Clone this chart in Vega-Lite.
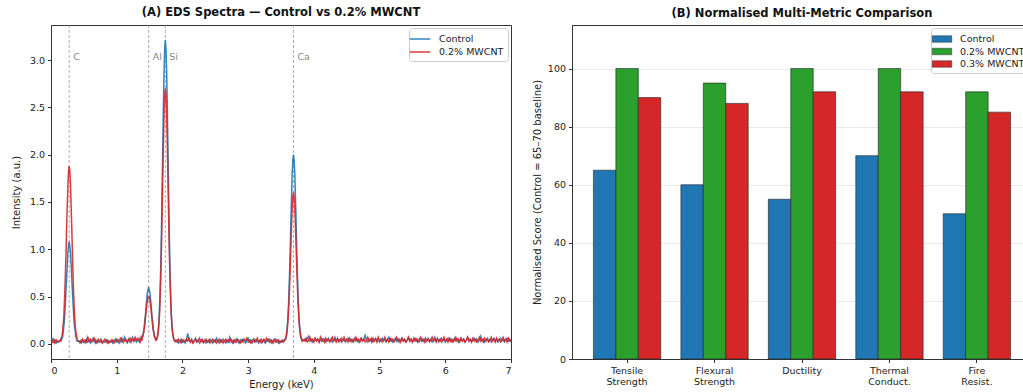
{
  "$schema": "https://vega.github.io/schema/vega-lite/v6.json",
  "padding": {"left": 10, "top": 6, "right": 0, "bottom": 0},
  "background": "white",
  "spacing": 61,
  "bounds": "flush",
  "config": {
    "font": "DejaVu Sans",
    "view": {"stroke": "#333", "strokeWidth": 1},
    "axis": {"domainColor": "#333", "tickColor": "#333", "tickSize": 3.5, "labelColor": "#222", "labelFontSize": 9.5, "titleFontSize": 10, "titleFontWeight": "normal", "titleColor": "#222", "labelPadding": 3, "grid": false},
    "title": {"fontSize": 11.5, "fontWeight": "bold", "color": "#111", "offset": 6},
    "legend": {"labelFontSize": 9.5, "labelColor": "#222", "fillColor": "white", "strokeColor": "#ccc", "cornerRadius": 3, "padding": 4, "offset": 3, "title": null}
  },
  "resolve": {"scale": {"color": "independent"}, "legend": {"color": "independent"}},
  "datasets": {
    "els": [
      {"el": "C", "e": 0.277},
      {"el": "Al", "e": 1.486},
      {"el": "Si", "e": 1.74},
      {"el": "Ca", "e": 3.69}
    ],
    "spec": [
      {"e":0.00,"c":0.03,"m":0.04},{"e":0.02,"c":0.05,"m":0.02},{"e":0.04,"c":0.02,"m":0.05},{"e":0.06,"c":0.04,"m":0.01},{"e":0.08,"c":0.01,"m":0.04},{"e":0.10,"c":0.03,"m":0.02},{"e":0.12,"c":0.02,"m":0.03},
      {"e":0.137,"c":0.03,"m":0.03},{"e":0.147,"c":0.05,"m":0.03},{"e":0.157,"c":0.04,"m":0.06},{"e":0.167,"c":0.06,"m":0.08},{"e":0.177,"c":0.07,"m":0.14},{"e":0.187,"c":0.13,"m":0.21},{"e":0.197,"c":0.20,"m":0.31},{"e":0.207,"c":0.28,"m":0.49},{"e":0.217,"c":0.39,"m":0.69},{"e":0.227,"c":0.55,"m":0.92},{"e":0.237,"c":0.69,"m":1.21},{"e":0.247,"c":0.82,"m":1.45},{"e":0.257,"c":0.97,"m":1.66},{"e":0.267,"c":1.04,"m":1.83},{"e":0.277,"c":1.08,"m":1.88},{"e":0.287,"c":1.03,"m":1.82},{"e":0.297,"c":0.96,"m":1.68},{"e":0.307,"c":0.84,"m":1.44},{"e":0.317,"c":0.68,"m":1.20},{"e":0.327,"c":0.54,"m":0.94},{"e":0.337,"c":0.41,"m":0.68},{"e":0.347,"c":0.27,"m":0.48},{"e":0.357,"c":0.19,"m":0.33},{"e":0.367,"c":0.15,"m":0.20},{"e":0.377,"c":0.08,"m":0.13},{"e":0.387,"c":0.06,"m":0.09},{"e":0.397,"c":0.03,"m":0.05},{"e":0.407,"c":0.03,"m":0.03},{"e":0.417,"c":0.03,"m":0.03},
      {"e":0.44,"c":0.01,"m":0.03},{"e":0.46,"c":0.04,"m":0.01},{"e":0.48,"c":0.02,"m":0.05},{"e":0.50,"c":0.03,"m":0.02},{"e":0.52,"c":0.01,"m":0.04},{"e":0.54,"c":0.05,"m":0.02},{"e":0.56,"c":0.02,"m":0.07},{"e":0.58,"c":0.04,"m":0.03},{"e":0.60,"c":0.01,"m":0.05},{"e":0.62,"c":0.03,"m":0.02},{"e":0.64,"c":0.06,"m":0.04},{"e":0.66,"c":0.02,"m":0.06},{"e":0.68,"c":0.04,"m":0.01},{"e":0.70,"c":0.01,"m":0.03},{"e":0.72,"c":0.03,"m":0.05},{"e":0.74,"c":0.02,"m":0.02},{"e":0.76,"c":0.05,"m":0.04},{"e":0.78,"c":0.01,"m":0.01},{"e":0.80,"c":0.03,"m":0.03},{"e":0.82,"c":0.02,"m":0.05},{"e":0.84,"c":0.04,"m":0.02},{"e":0.86,"c":0.01,"m":0.04},{"e":0.88,"c":0.03,"m":0.01},{"e":0.90,"c":0.02,"m":0.03},{"e":0.92,"c":0.04,"m":0.02},{"e":0.94,"c":0.01,"m":0.04},{"e":0.96,"c":0.03,"m":0.01},{"e":0.98,"c":0.05,"m":0.03},{"e":1.00,"c":0.02,"m":0.05},{"e":1.02,"c":0.04,"m":0.02},{"e":1.04,"c":0.01,"m":0.04},{"e":1.06,"c":0.03,"m":0.06},{"e":1.08,"c":0.06,"m":0.02},{"e":1.10,"c":0.02,"m":0.04},{"e":1.12,"c":0.07,"m":0.03},{"e":1.14,"c":0.03,"m":0.05},{"e":1.16,"c":0.01,"m":0.02},{"e":1.18,"c":0.05,"m":0.04},{"e":1.20,"c":0.02,"m":0.06},{"e":1.22,"c":0.04,"m":0.02},{"e":1.24,"c":0.07,"m":0.05},{"e":1.26,"c":0.03,"m":0.03},{"e":1.28,"c":0.05,"m":0.07},{"e":1.30,"c":0.02,"m":0.04},{"e":1.32,"c":0.04,"m":0.06},
      {"e":1.346,"c":0.02,"m":0.04},{"e":1.356,"c":0.06,"m":0.02},{"e":1.366,"c":0.04,"m":0.04},{"e":1.376,"c":0.04,"m":0.07},{"e":1.386,"c":0.07,"m":0.05},{"e":1.396,"c":0.08,"m":0.08},{"e":1.406,"c":0.12,"m":0.10},{"e":1.416,"c":0.16,"m":0.15},{"e":1.426,"c":0.24,"m":0.19},{"e":1.436,"c":0.30,"m":0.27},{"e":1.446,"c":0.39,"m":0.33},{"e":1.456,"c":0.46,"m":0.40},{"e":1.466,"c":0.54,"m":0.45},{"e":1.476,"c":0.57,"m":0.50},{"e":1.486,"c":0.60,"m":0.50},{"e":1.496,"c":0.57,"m":0.49},{"e":1.506,"c":0.54,"m":0.46},{"e":1.516,"c":0.46,"m":0.39},{"e":1.526,"c":0.39,"m":0.34},{"e":1.536,"c":0.30,"m":0.26},{"e":1.546,"c":0.24,"m":0.20},{"e":1.556,"c":0.16,"m":0.14},{"e":1.566,"c":0.12,"m":0.11},{"e":1.576,"c":0.08,"m":0.07},{"e":1.586,"c":0.06,"m":0.06},{"e":1.596,"c":0.04,"m":0.04},{"e":1.606,"c":0.05,"m":0.04},
      {"e":1.62,"c":0.07,"m":0.08},{"e":1.63,"c":0.13,"m":0.11},{"e":1.64,"c":0.21,"m":0.19},{"e":1.65,"c":0.35,"m":0.29},{"e":1.66,"c":0.54,"m":0.47},{"e":1.67,"c":0.82,"m":0.69},{"e":1.68,"c":1.17,"m":0.99},{"e":1.69,"c":1.60,"m":1.33},{"e":1.70,"c":2.04,"m":1.73},{"e":1.71,"c":2.50,"m":2.09},{"e":1.72,"c":2.86,"m":2.41},{"e":1.73,"c":3.12,"m":2.62},{"e":1.74,"c":3.21,"m":2.70},{"e":1.75,"c":3.11,"m":2.63},{"e":1.76,"c":2.87,"m":2.40},{"e":1.77,"c":2.49,"m":2.10},{"e":1.78,"c":2.05,"m":1.72},{"e":1.79,"c":1.59,"m":1.34},{"e":1.80,"c":1.18,"m":0.98},{"e":1.81,"c":0.81,"m":0.70},{"e":1.82,"c":0.55,"m":0.46},{"e":1.83,"c":0.34,"m":0.30},{"e":1.84,"c":0.22,"m":0.18},{"e":1.85,"c":0.12,"m":0.12},{"e":1.86,"c":0.08,"m":0.07},{"e":1.87,"c":0.05,"m":0.05},{"e":1.88,"c":0.04,"m":0.03},
      {"e":1.90,"c":0.02,"m":0.04},{"e":1.92,"c":0.04,"m":0.02},{"e":1.94,"c":0.01,"m":0.05},{"e":1.96,"c":0.03,"m":0.03},{"e":1.98,"c":0.05,"m":0.01},{"e":2.00,"c":0.02,"m":0.04},{"e":2.02,"c":0.04,"m":0.02},{"e":2.04,"c":0.01,"m":0.03},{"e":2.06,"c":0.03,"m":0.05},{"e":2.08,"c":0.11,"m":0.03},{"e":2.10,"c":0.04,"m":0.06},{"e":2.12,"c":0.02,"m":0.02},{"e":2.14,"c":0.05,"m":0.04},{"e":2.16,"c":0.01,"m":0.01},{"e":2.18,"c":0.03,"m":0.03},{"e":2.20,"c":0.06,"m":0.05},{"e":2.22,"c":0.02,"m":0.02},{"e":2.24,"c":0.04,"m":0.04},{"e":2.26,"c":0.01,"m":0.06},{"e":2.28,"c":0.03,"m":0.02},{"e":2.30,"c":0.05,"m":0.04},{"e":2.32,"c":0.02,"m":0.01},{"e":2.34,"c":0.04,"m":0.03},{"e":2.36,"c":0.01,"m":0.05},{"e":2.38,"c":0.03,"m":0.02},{"e":2.40,"c":0.02,"m":0.04},{"e":2.42,"c":0.05,"m":0.01},{"e":2.44,"c":0.03,"m":0.03},{"e":2.46,"c":0.01,"m":0.05},{"e":2.48,"c":0.04,"m":0.02},{"e":2.50,"c":0.02,"m":0.04},{"e":2.52,"c":0.06,"m":0.01},{"e":2.54,"c":0.03,"m":0.03},{"e":2.56,"c":0.01,"m":0.05},{"e":2.58,"c":0.04,"m":0.02},{"e":2.60,"c":0.02,"m":0.04},{"e":2.62,"c":0.05,"m":0.01},{"e":2.64,"c":0.03,"m":0.03},{"e":2.66,"c":0.01,"m":0.05},{"e":2.68,"c":0.04,"m":0.02},{"e":2.70,"c":0.02,"m":0.04},{"e":2.72,"c":0.07,"m":0.02},{"e":2.74,"c":0.03,"m":0.05},{"e":2.76,"c":0.01,"m":0.03},{"e":2.78,"c":0.04,"m":0.01},{"e":2.80,"c":0.02,"m":0.04},{"e":2.82,"c":0.05,"m":0.02},{"e":2.84,"c":0.03,"m":0.05},{"e":2.86,"c":0.01,"m":0.03},{"e":2.88,"c":0.04,"m":0.01},{"e":2.90,"c":0.02,"m":0.04},{"e":2.92,"c":0.05,"m":0.02},{"e":2.94,"c":0.03,"m":0.05},{"e":2.96,"c":0.01,"m":0.03},{"e":2.98,"c":0.04,"m":0.06},{"e":3.00,"c":0.06,"m":0.02},{"e":3.02,"c":0.02,"m":0.04},{"e":3.04,"c":0.04,"m":0.01},{"e":3.06,"c":0.01,"m":0.03},{"e":3.08,"c":0.03,"m":0.05},{"e":3.10,"c":0.05,"m":0.02},{"e":3.12,"c":0.02,"m":0.04},{"e":3.14,"c":0.04,"m":0.06},{"e":3.16,"c":0.01,"m":0.02},{"e":3.18,"c":0.03,"m":0.04},{"e":3.20,"c":0.05,"m":0.01},{"e":3.22,"c":0.02,"m":0.03},{"e":3.24,"c":0.04,"m":0.05},{"e":3.26,"c":0.01,"m":0.02},{"e":3.28,"c":0.03,"m":0.06},{"e":3.30,"c":0.05,"m":0.03},{"e":3.32,"c":0.02,"m":0.05},{"e":3.34,"c":0.04,"m":0.02},{"e":3.36,"c":0.01,"m":0.04},{"e":3.38,"c":0.03,"m":0.01},{"e":3.40,"c":0.05,"m":0.03},{"e":3.42,"c":0.02,"m":0.05},{"e":3.44,"c":0.04,"m":0.02},{"e":3.46,"c":0.01,"m":0.04},{"e":3.48,"c":0.03,"m":0.01},{"e":3.50,"c":0.02,"m":0.03},{"e":3.52,"c":0.04,"m":0.02},{"e":3.54,"c":0.02,"m":0.03},
      {"e":3.55,"c":0.04,"m":0.03},{"e":3.56,"c":0.04,"m":0.05},{"e":3.57,"c":0.06,"m":0.05},{"e":3.58,"c":0.08,"m":0.08},{"e":3.59,"c":0.15,"m":0.11},{"e":3.60,"c":0.22,"m":0.19},{"e":3.61,"c":0.35,"m":0.28},{"e":3.62,"c":0.51,"m":0.42},{"e":3.63,"c":0.74,"m":0.59},{"e":3.64,"c":0.99,"m":0.80},{"e":3.65,"c":1.28,"m":1.02},{"e":3.66,"c":1.55,"m":1.25},{"e":3.67,"c":1.79,"m":1.42},{"e":3.68,"c":1.94,"m":1.56},{"e":3.69,"c":2.00,"m":1.60},{"e":3.70,"c":1.94,"m":1.55},{"e":3.71,"c":1.79,"m":1.43},{"e":3.72,"c":1.55,"m":1.24},{"e":3.73,"c":1.28,"m":1.03},{"e":3.74,"c":0.99,"m":0.79},{"e":3.75,"c":0.74,"m":0.60},{"e":3.76,"c":0.51,"m":0.41},{"e":3.77,"c":0.35,"m":0.29},{"e":3.78,"c":0.22,"m":0.18},{"e":3.79,"c":0.15,"m":0.12},{"e":3.80,"c":0.10,"m":0.07},{"e":3.81,"c":0.05,"m":0.06},{"e":3.82,"c":0.05,"m":0.03},{"e":3.83,"c":0.03,"m":0.04},
      {"e":3.86,"c":0.05,"m":0.03},{"e":3.88,"c":0.03,"m":0.06},{"e":3.90,"c":0.06,"m":0.02},{"e":3.92,"c":0.08,"m":0.04},{"e":3.94,"c":0.03,"m":0.07},{"e":3.96,"c":0.05,"m":0.03},{"e":3.98,"c":0.02,"m":0.05},{"e":4.00,"c":0.04,"m":0.02},{"e":4.02,"c":0.06,"m":0.06},{"e":4.04,"c":0.03,"m":0.03},{"e":4.06,"c":0.05,"m":0.05},{"e":4.08,"c":0.02,"m":0.02},{"e":4.10,"c":0.04,"m":0.07},{"e":4.12,"c":0.06,"m":0.03},{"e":4.14,"c":0.03,"m":0.05},{"e":4.16,"c":0.05,"m":0.02},{"e":4.18,"c":0.02,"m":0.06},{"e":4.20,"c":0.04,"m":0.03},{"e":4.22,"c":0.06,"m":0.05},{"e":4.24,"c":0.03,"m":0.02},{"e":4.26,"c":0.05,"m":0.04},{"e":4.28,"c":0.02,"m":0.07},{"e":4.30,"c":0.04,"m":0.03},{"e":4.32,"c":0.07,"m":0.05},{"e":4.34,"c":0.03,"m":0.02},{"e":4.36,"c":0.05,"m":0.06},{"e":4.38,"c":0.02,"m":0.03},{"e":4.40,"c":0.04,"m":0.05},{"e":4.42,"c":0.06,"m":0.02},{"e":4.44,"c":0.03,"m":0.04},{"e":4.46,"c":0.05,"m":0.07},{"e":4.48,"c":0.02,"m":0.03},{"e":4.50,"c":0.04,"m":0.05},{"e":4.52,"c":0.06,"m":0.02},{"e":4.54,"c":0.03,"m":0.06},{"e":4.56,"c":0.05,"m":0.03},{"e":4.58,"c":0.02,"m":0.05},{"e":4.60,"c":0.04,"m":0.02},{"e":4.62,"c":0.06,"m":0.04},{"e":4.64,"c":0.03,"m":0.07},{"e":4.66,"c":0.05,"m":0.03},{"e":4.68,"c":0.02,"m":0.05},{"e":4.70,"c":0.04,"m":0.02},{"e":4.72,"c":0.06,"m":0.06},{"e":4.74,"c":0.03,"m":0.03},{"e":4.76,"c":0.05,"m":0.05},{"e":4.78,"c":0.09,"m":0.02},{"e":4.80,"c":0.04,"m":0.04},{"e":4.82,"c":0.02,"m":0.07},{"e":4.84,"c":0.05,"m":0.03},{"e":4.86,"c":0.03,"m":0.05},{"e":4.88,"c":0.06,"m":0.02},{"e":4.90,"c":0.02,"m":0.06},{"e":4.92,"c":0.04,"m":0.03},{"e":4.94,"c":0.06,"m":0.05},{"e":4.96,"c":0.03,"m":0.02},{"e":4.98,"c":0.05,"m":0.07},{"e":5.00,"c":0.02,"m":0.03},{"e":5.02,"c":0.04,"m":0.05},{"e":5.04,"c":0.06,"m":0.02},{"e":5.06,"c":0.03,"m":0.04},{"e":5.08,"c":0.05,"m":0.07},{"e":5.10,"c":0.02,"m":0.03},{"e":5.12,"c":0.04,"m":0.05},{"e":5.14,"c":0.07,"m":0.02},{"e":5.16,"c":0.03,"m":0.06},{"e":5.18,"c":0.05,"m":0.03},{"e":5.20,"c":0.02,"m":0.05},{"e":5.22,"c":0.04,"m":0.02},{"e":5.24,"c":0.06,"m":0.04},{"e":5.26,"c":0.03,"m":0.07},{"e":5.28,"c":0.05,"m":0.03},{"e":5.30,"c":0.02,"m":0.05},{"e":5.32,"c":0.04,"m":0.02},{"e":5.34,"c":0.06,"m":0.06},{"e":5.36,"c":0.03,"m":0.03},{"e":5.38,"c":0.05,"m":0.05},{"e":5.40,"c":0.02,"m":0.02},{"e":5.42,"c":0.04,"m":0.04},{"e":5.44,"c":0.07,"m":0.07},{"e":5.46,"c":0.03,"m":0.03},{"e":5.48,"c":0.05,"m":0.05},{"e":5.50,"c":0.02,"m":0.02},{"e":5.52,"c":0.04,"m":0.06},{"e":5.54,"c":0.06,"m":0.03},{"e":5.56,"c":0.03,"m":0.05},{"e":5.58,"c":0.05,"m":0.02},{"e":5.60,"c":0.02,"m":0.04},{"e":5.62,"c":0.04,"m":0.07},{"e":5.64,"c":0.06,"m":0.03},{"e":5.66,"c":0.03,"m":0.05},{"e":5.68,"c":0.05,"m":0.02},{"e":5.70,"c":0.02,"m":0.06},{"e":5.72,"c":0.04,"m":0.03},{"e":5.74,"c":0.06,"m":0.05},{"e":5.76,"c":0.03,"m":0.02},{"e":5.78,"c":0.05,"m":0.04},{"e":5.80,"c":0.02,"m":0.07},{"e":5.82,"c":0.04,"m":0.03},{"e":5.84,"c":0.07,"m":0.05},{"e":5.86,"c":0.03,"m":0.02},{"e":5.88,"c":0.05,"m":0.06},{"e":5.90,"c":0.02,"m":0.03},{"e":5.92,"c":0.04,"m":0.05},{"e":5.94,"c":0.06,"m":0.02},{"e":5.96,"c":0.03,"m":0.04},{"e":5.98,"c":0.05,"m":0.07},{"e":6.00,"c":0.02,"m":0.03},{"e":6.02,"c":0.04,"m":0.05},{"e":6.04,"c":0.06,"m":0.02},{"e":6.06,"c":0.03,"m":0.06},{"e":6.08,"c":0.05,"m":0.03},{"e":6.10,"c":0.02,"m":0.05},{"e":6.12,"c":0.04,"m":0.02},{"e":6.14,"c":0.06,"m":0.04},{"e":6.16,"c":0.03,"m":0.07},{"e":6.18,"c":0.05,"m":0.03},{"e":6.20,"c":0.02,"m":0.05},{"e":6.22,"c":0.04,"m":0.02},{"e":6.24,"c":0.06,"m":0.06},{"e":6.26,"c":0.03,"m":0.03},{"e":6.28,"c":0.05,"m":0.05},{"e":6.30,"c":0.02,"m":0.02},{"e":6.32,"c":0.04,"m":0.04},{"e":6.34,"c":0.07,"m":0.07},{"e":6.36,"c":0.03,"m":0.03},{"e":6.38,"c":0.05,"m":0.05},{"e":6.40,"c":0.02,"m":0.02},{"e":6.42,"c":0.04,"m":0.06},{"e":6.44,"c":0.06,"m":0.03},{"e":6.46,"c":0.03,"m":0.05},{"e":6.48,"c":0.05,"m":0.02},{"e":6.50,"c":0.02,"m":0.04},{"e":6.52,"c":0.04,"m":0.07},{"e":6.54,"c":0.08,"m":0.03},{"e":6.56,"c":0.03,"m":0.05},{"e":6.58,"c":0.05,"m":0.02},{"e":6.60,"c":0.02,"m":0.06},{"e":6.62,"c":0.04,"m":0.03},{"e":6.64,"c":0.06,"m":0.05},{"e":6.66,"c":0.03,"m":0.02},{"e":6.68,"c":0.05,"m":0.04},{"e":6.70,"c":0.02,"m":0.07},{"e":6.72,"c":0.04,"m":0.03},{"e":6.74,"c":0.06,"m":0.05},{"e":6.76,"c":0.03,"m":0.02},{"e":6.78,"c":0.05,"m":0.06},{"e":6.80,"c":0.02,"m":0.03},{"e":6.82,"c":0.04,"m":0.05},{"e":6.84,"c":0.06,"m":0.02},{"e":6.86,"c":0.03,"m":0.04},{"e":6.88,"c":0.05,"m":0.07},{"e":6.90,"c":0.02,"m":0.03},{"e":6.92,"c":0.04,"m":0.05},{"e":6.94,"c":0.06,"m":0.02},{"e":6.96,"c":0.03,"m":0.06},{"e":6.98,"c":0.05,"m":0.03},{"e":7.00,"c":0.02,"m":0.04}
    ],
    "bars": [
      {"metric": "Tensile Strength", "group": "Control", "score": 65},
      {"metric": "Tensile Strength", "group": "0.2% MWCNT", "score": 100},
      {"metric": "Tensile Strength", "group": "0.3% MWCNT", "score": 90},
      {"metric": "Flexural Strength", "group": "Control", "score": 60},
      {"metric": "Flexural Strength", "group": "0.2% MWCNT", "score": 95},
      {"metric": "Flexural Strength", "group": "0.3% MWCNT", "score": 88},
      {"metric": "Ductility", "group": "Control", "score": 55},
      {"metric": "Ductility", "group": "0.2% MWCNT", "score": 100},
      {"metric": "Ductility", "group": "0.3% MWCNT", "score": 92},
      {"metric": "Thermal Conduct.", "group": "Control", "score": 70},
      {"metric": "Thermal Conduct.", "group": "0.2% MWCNT", "score": 100},
      {"metric": "Thermal Conduct.", "group": "0.3% MWCNT", "score": 92},
      {"metric": "Fire Resist.", "group": "Control", "score": 50},
      {"metric": "Fire Resist.", "group": "0.2% MWCNT", "score": 92},
      {"metric": "Fire Resist.", "group": "0.3% MWCNT", "score": 85}
    ]
  },
  "hconcat": [
    {
      "width": 460,
      "height": 334,
      "title": {"text": "(A) EDS Spectra — Control vs 0.2% MWCNT"},
      "layer": [
        {
          "data": {"name": "els"},
          "mark": {"type": "rule", "color": "#999", "strokeWidth": 0.8, "strokeDash": [3, 2]},
          "encoding": {
            "x": {"field": "e", "type": "quantitative", "scale": {"domain": [0, 7], "nice": false, "zero": false}}
          }
        },
        {
          "data": {"name": "els"},
          "mark": {"type": "text", "align": "left", "baseline": "alphabetic", "dx": 4, "color": "#888", "fontSize": 9.5},
          "encoding": {
            "x": {"field": "e", "type": "quantitative"},
            "y": {"datum": 3.0},
            "text": {"field": "el"}
          }
        },
        {
          "data": {"name": "spec"},
          "mark": {"type": "line", "strokeWidth": 1.5, "opacity": 0.9},
          "encoding": {
            "x": {"field": "e", "type": "quantitative"},
            "y": {"field": "c", "type": "quantitative"},
            "color": {"datum": "Control"}
          }
        },
        {
          "data": {"name": "spec"},
          "mark": {"type": "line", "strokeWidth": 1.5, "opacity": 0.9},
          "encoding": {
            "x": {"field": "e", "type": "quantitative", "title": "Energy (keV)", "axis": {"values": [0, 1, 2, 3, 4, 5, 6, 7], "format": "d"}},
            "y": {"field": "m", "type": "quantitative", "title": "Intensity (a.u.)", "scale": {"domain": [-0.16, 3.37], "nice": false, "zero": false}, "axis": {"values": [0, 0.5, 1, 1.5, 2, 2.5, 3], "format": ".1f", "titlePadding": 8}},
            "color": {
              "datum": "0.2% MWCNT",
              "scale": {"domain": ["Control", "0.2% MWCNT"], "range": ["#1f77b4", "#d62728"]},
              "legend": {"orient": "top-right", "symbolType": "M-1.7,0L1.7,0", "symbolSize": 144, "symbolStrokeWidth": 1.5, "labelOffset": 12, "rowPadding": 1}
            }
          }
        }
      ]
    },
    {
      "width": 460,
      "height": 334,
      "title": {"text": "(B) Normalised Multi-Metric Comparison"},
      "data": {"name": "bars"},
      "mark": {"type": "bar", "stroke": "#222", "strokeWidth": 0.6},
      "encoding": {
        "x": {
          "field": "metric", "type": "nominal", "sort": null, "title": null,
          "scale": {"paddingInner": 0.23, "paddingOuter": 0.245},
          "axis": {"labelAngle": 0, "labelExpr": "split(datum.label, ' ')", "labelLineHeight": 11, "labelPadding": 3}
        },
        "xOffset": {"field": "group", "type": "nominal", "sort": ["Control", "0.2% MWCNT", "0.3% MWCNT"], "scale": {"paddingInner": 0, "paddingOuter": 0}},
        "y": {
          "field": "score", "type": "quantitative", "title": "Normalised Score (Control = 65–70 baseline)",
          "scale": {"domain": [0, 115], "nice": false},
          "axis": {"values": [0, 20, 40, 60, 80, 100], "grid": true, "gridColor": "#e3e3e3", "gridWidth": 0.8, "titlePadding": 5}
        },
        "color": {
          "field": "group", "type": "nominal",
          "scale": {"domain": ["Control", "0.2% MWCNT", "0.3% MWCNT"], "range": ["#1f77b4", "#2ca02c", "#d62728"]},
          "legend": {"orient": "top-right", "symbolType": "M-1.5,-0.5H1.5V0.5H-1.5Z", "symbolSize": 169, "symbolStrokeColor": "#333", "symbolStrokeWidth": 0.5, "labelOffset": 11, "rowPadding": 0.5}
        }
      }
    }
  ]
}
